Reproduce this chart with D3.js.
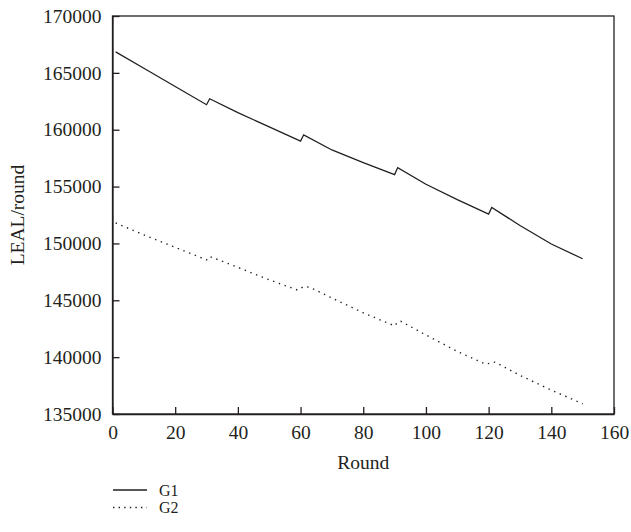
<!DOCTYPE html>
<html>
<head>
<meta charset="utf-8">
<script src="https://cdn.jsdelivr.net/npm/d3@7"></script>
<style>
  body { margin: 0; background: #fff; }
  text { font-family: "Liberation Serif", "DejaVu Serif", serif; fill: #231f20; }
</style>
</head>
<body>
<svg id="chart" width="631" height="532"></svg>
<script>
// ---- data ----
const g1Rounds = [1, 10, 20, 30, 31, 40, 50, 60, 61, 70, 80, 90, 91, 100, 110, 120, 121, 130, 140, 150];
const g1Values = [166850, 165400, 163800, 162200, 162720, 161500, 160250, 159000, 159550, 158220, 157100, 156050, 156670, 155200, 153850, 152580, 153160, 151580, 149950, 148650];

const g2Rounds = [1, 10, 20, 30, 31, 40, 50, 59, 61, 63, 70, 80, 90, 91, 92, 100, 110, 119, 121, 122, 130, 140, 150];
const g2Values = [151800, 150750, 149650, 148550, 148850, 147900, 146800, 145900, 146200, 146140, 145200, 143900, 142750, 143100, 143150, 141950, 140500, 139390, 139500, 139560, 138400, 137100, 135900];

const xTicks = [0, 20, 40, 60, 80, 100, 120, 140, 160];
const yTicks = [135000, 140000, 145000, 150000, 155000, 160000, 165000, 170000];
const seriesNames = ["G1", "G2"];

// ---- layout ----
const svg = d3.select("#chart");
const mLeft = 112.5, mRight = 614, mTop = 16, mBottom = 414;
const x = d3.scaleLinear().domain([0, 160]).range([mLeft, mRight]);
const y = d3.scaleLinear().domain([135000, 170000]).range([mBottom, mTop]);
const ink = "#231f20";
const fontSize = 19.5;

// frame
svg.append("rect")
  .attr("x", mLeft).attr("y", mTop)
  .attr("width", mRight - mLeft).attr("height", mBottom - mTop)
  .attr("fill", "none").attr("stroke", ink).attr("stroke-width", 1.3);

// axes (ticks inward)
const xAxis = svg.append("g").attr("transform", `translate(0,${mBottom})`)
  .call(d3.axisBottom(x).tickValues(xTicks).tickSizeInner(-7).tickSizeOuter(0).tickPadding(11).tickFormat(d3.format("d")));
const yAxis = svg.append("g").attr("transform", `translate(${mLeft},0)`)
  .call(d3.axisLeft(y).tickValues(yTicks).tickSizeInner(-7).tickSizeOuter(0).tickPadding(11).tickFormat(d3.format("d")));
[xAxis, yAxis].forEach(a => {
  a.select(".domain").attr("stroke", ink).attr("stroke-width", 1.3);
  a.selectAll(".tick line").attr("stroke", ink).attr("stroke-width", 1.3);
  a.selectAll(".tick text").attr("font-size", fontSize).attr("font-family", "Liberation Serif").attr("fill", ink);
});

// axis titles
svg.append("text")
  .attr("x", (mLeft + mRight) / 2).attr("y", 469)
  .attr("text-anchor", "middle").attr("font-size", fontSize)
  .text("Round");
svg.append("text")
  .attr("transform", `translate(24,${(mTop + mBottom) / 2}) rotate(-90)`)
  .attr("text-anchor", "middle").attr("font-size", fontSize)
  .text("LEAL/round");

// lines
const line = d3.line().x(d => x(d[0])).y(d => y(d[1]));
const g1 = g1Rounds.map((r, i) => [r, g1Values[i]]);
const g2 = g2Rounds.map((r, i) => [r, g2Values[i]]);

svg.append("path").datum(g1).attr("d", line)
  .attr("fill", "none").attr("stroke", ink).attr("stroke-width", 1.3);
svg.append("path").datum(g2).attr("d", line)
  .attr("fill", "none").attr("stroke", ink).attr("stroke-width", 1.4)
  .attr("stroke-dasharray", "1.4,4.7");

// legend
const legend = svg.append("g");
const styles = [{ dash: null }, { dash: "1.4,4.2" }];
seriesNames.forEach((name, i) => {
  const ly = 490 + i * 17.5;
  legend.append("line")
    .attr("x1", 113).attr("x2", 147).attr("y1", ly).attr("y2", ly)
    .attr("stroke", ink).attr("stroke-width", 1.3)
    .attr("stroke-dasharray", styles[i].dash);
  legend.append("text")
    .attr("x", 159).attr("y", ly + 5.5)
    .attr("font-size", 16)
    .text(name);
});
</script>
</body>
</html>
